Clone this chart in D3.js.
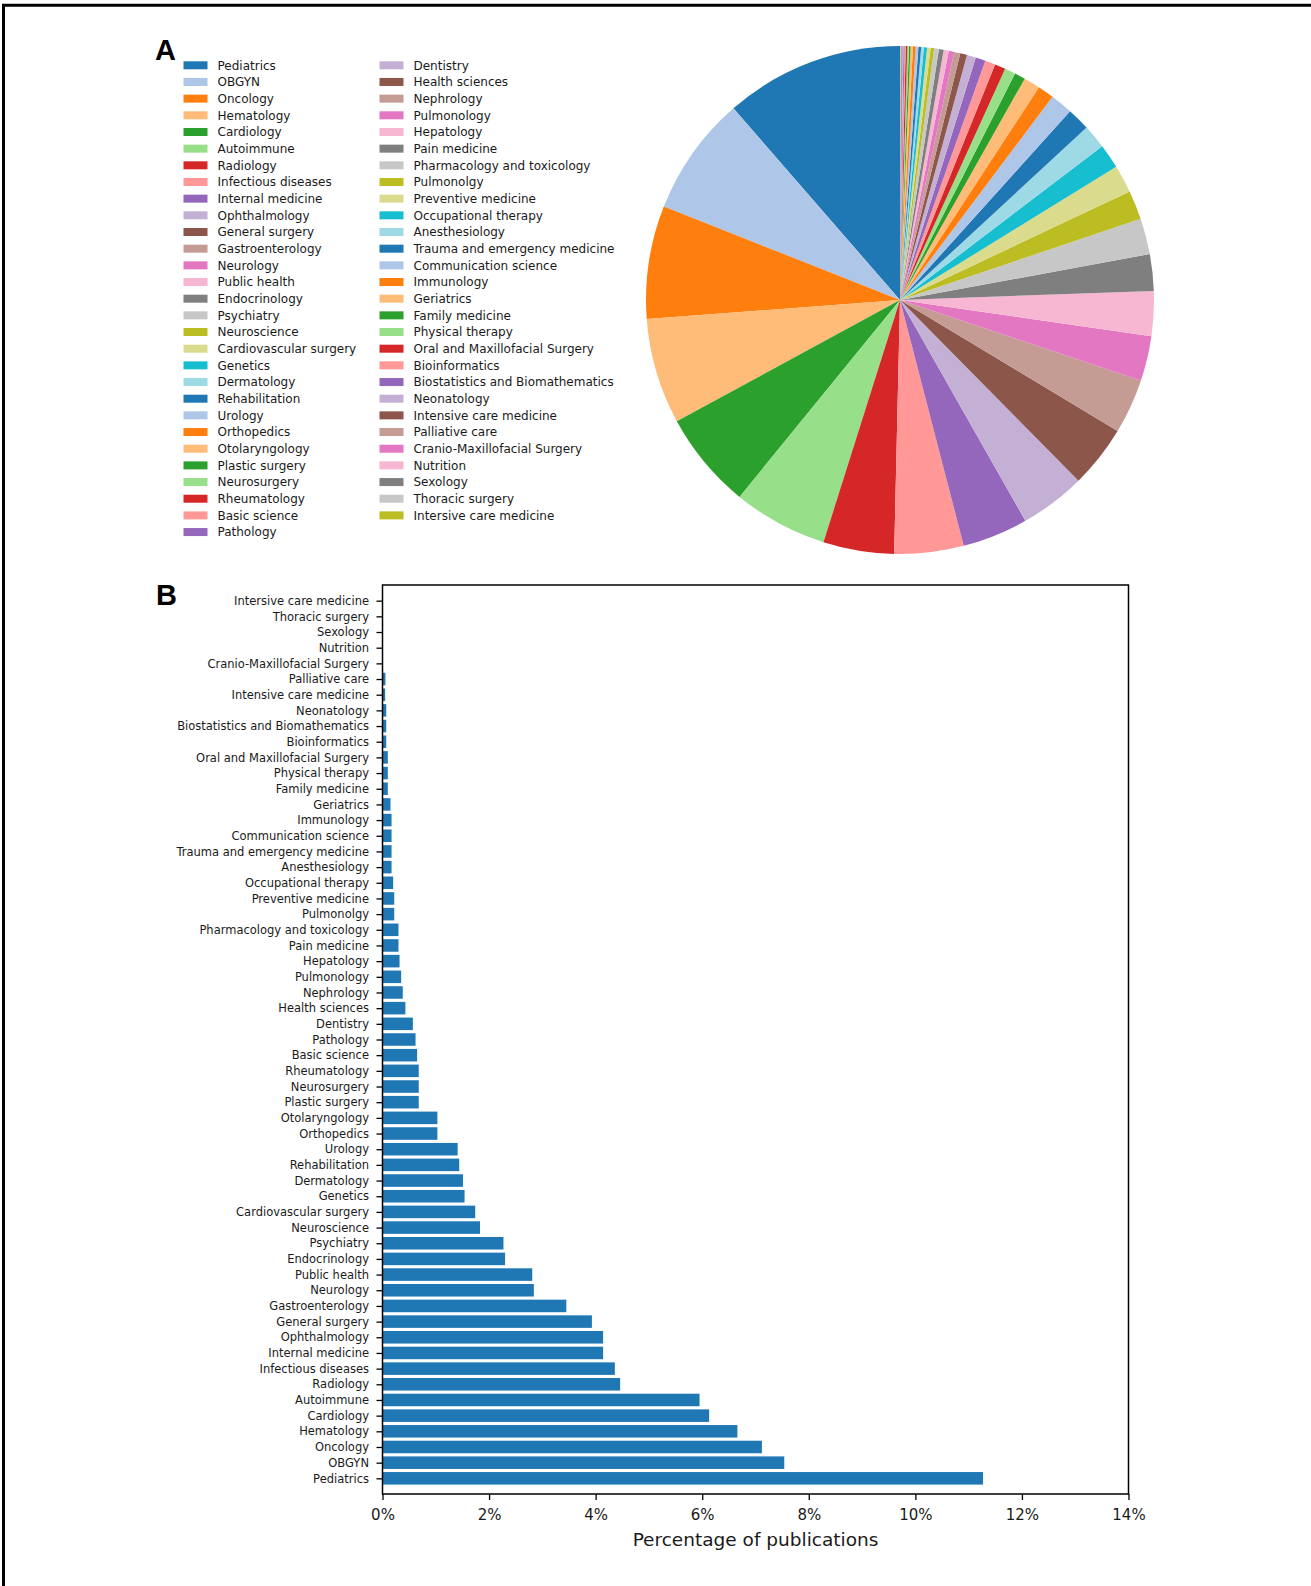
<!DOCTYPE html>
<html>
<head>
<meta charset="utf-8">
<script src="https://cdn.jsdelivr.net/npm/d3@7"></script>
<style>
  html, body { margin: 0; padding: 0; background: #fff; }
  svg { display: block; }
  .lbl { font-family: "DejaVu Sans", sans-serif; fill: #1a1a1a; }
</style>
</head>
<body>
<svg id="fig" width="1311" height="1586"></svg>
<script>
// Specialties, in order of share of publications (largest first)
const specialties = [
  "Pediatrics", "OBGYN", "Oncology", "Hematology", "Cardiology", "Autoimmune",
  "Radiology", "Infectious diseases", "Internal medicine", "Ophthalmology",
  "General surgery", "Gastroenterology", "Neurology", "Public health",
  "Endocrinology", "Psychiatry", "Neuroscience", "Cardiovascular surgery",
  "Genetics", "Dermatology", "Rehabilitation", "Urology", "Orthopedics",
  "Otolaryngology", "Plastic surgery", "Neurosurgery", "Rheumatology",
  "Basic science", "Pathology", "Dentistry", "Health sciences", "Nephrology",
  "Pulmonology", "Hepatology", "Pain medicine", "Pharmacology and toxicology",
  "Pulmonolgy", "Preventive medicine", "Occupational therapy", "Anesthesiology",
  "Trauma and emergency medicine", "Communication science", "Immunology",
  "Geriatrics", "Family medicine", "Physical therapy",
  "Oral and Maxillofacial Surgery", "Bioinformatics",
  "Biostatistics and Biomathematics", "Neonatology", "Intensive care medicine",
  "Palliative care", "Cranio-Maxillofacial Surgery", "Nutrition", "Sexology",
  "Thoracic surgery", "Intersive care medicine"
];

// Percentage of publications per specialty
const percentages = [
  11.27, 7.54, 7.12, 6.66, 6.13, 5.95,
  4.46, 4.36, 4.14, 4.14,
  3.93, 3.45, 2.84, 2.81,
  2.30, 2.27, 1.83, 1.74,
  1.54, 1.51, 1.44, 1.41, 1.03,
  1.03, 0.68, 0.68, 0.68,
  0.65, 0.62, 0.57, 0.43, 0.38,
  0.35, 0.32, 0.30, 0.30,
  0.22, 0.22, 0.20, 0.17,
  0.17, 0.17, 0.17,
  0.15, 0.10, 0.10,
  0.10, 0.07,
  0.07, 0.07, 0.05,
  0.055, 0.008, 0.008, 0.008,
  0.008, 0.008
];

// Axis ticks of the bar chart (percent)
const xTicks = [0, 2, 4, 6, 8, 10, 12, 14];

// 20-colour categorical palette, cycled over the specialties
const palette = [
  "#1f77b4", "#aec7e8", "#ff7f0e", "#ffbb78", "#2ca02c", "#98df8a",
  "#d62728", "#ff9896", "#9467bd", "#c5b0d5", "#8c564b", "#c49c94",
  "#e377c2", "#f7b6d2", "#7f7f7f", "#c7c7c7", "#bcbd22", "#dbdb8d",
  "#17becf", "#9edae5"
];

// Legend split: first column length
const legendColumnSize = 29;

const svg = d3.select("#fig");
svg.append("rect").attr("width", 1311).attr("height", 1586).attr("fill", "#fff");

// Figure frame (top and left edges)
svg.append("line").attr("x1", 2).attr("x2", 1311).attr("y1", 5.3).attr("y2", 5.3)
  .attr("stroke", "#000").attr("stroke-width", 3);
svg.append("line").attr("x1", 3.5).attr("x2", 3.5).attr("y1", 4).attr("y2", 1586)
  .attr("stroke", "#000").attr("stroke-width", 3);

const color = d3.scaleOrdinal().domain(specialties).range(palette);

// Panel letters
svg.append("text").attr("x", 155).attr("y", 60).text("A")
  .attr("font-family", "'Liberation Sans', Arial, sans-serif")
  .attr("font-weight", "bold").attr("font-size", 29).attr("fill", "#000");
svg.append("text").attr("x", 156).attr("y", 605).text("B")
  .attr("font-family", "'Liberation Sans', Arial, sans-serif")
  .attr("font-weight", "bold").attr("font-size", 29).attr("fill", "#000");

// ---------- Panel A: legend ----------
const legendRow = d3.scaleLinear().domain([0, 1]).range([65.3, 65.3 + 16.67]);
const legendCols = [{ rectX: 183.5, textX: 217.5 }, { rectX: 379.5, textX: 413.5 }];

const legend = svg.append("g");
specialties.forEach((name, i) => {
  const col = i < legendColumnSize ? 0 : 1;
  const row = col === 0 ? i : i - legendColumnSize;
  const cy = legendRow(row);
  const c = legendCols[col];
  legend.append("rect")
    .attr("x", c.rectX).attr("y", cy - 4)
    .attr("width", 24).attr("height", 8)
    .attr("fill", color(name));
  legend.append("text").attr("class", "lbl")
    .attr("x", c.textX).attr("y", cy).attr("dy", "0.36em")
    .attr("font-size", 12).text(name);
});

// ---------- Panel A: pie (counter-clockwise from 12 o'clock) ----------
const pie = d3.pie().sort(null).value(d => d)
  .startAngle(0).endAngle(-2 * Math.PI);
const arc = d3.arc().innerRadius(0).outerRadius(254);

svg.append("g").attr("transform", "translate(900,300)")
  .selectAll("path")
  .data(pie(percentages))
  .join("path")
  .attr("d", arc)
  .attr("fill", (d, i) => color(specialties[i]));

// ---------- Panel B: horizontal bar chart ----------
const plot = { left: 382.5, right: 1128.5, top: 585, bottom: 1494 };

const x = d3.scaleLinear().domain([0, 14]).range([plot.left, plot.right]);
const y = d3.scaleLinear().domain([-1, specialties.length]).range([plot.bottom, plot.top]);

const bars = svg.append("g");
bars.selectAll("rect")
  .data(percentages)
  .join("rect")
  .attr("x", x(0))
  .attr("y", (d, i) => y(i + 0.4))
  .attr("width", d => x(d) - x(0))
  .attr("height", (d, i) => y(i - 0.4) - y(i + 0.4))
  .attr("fill", "#1f77b4");

// y axis: specialty names
const yAxis = d3.axisLeft(y)
  .tickValues(d3.range(specialties.length))
  .tickFormat(i => specialties[i])
  .tickSize(6).tickPadding(7.5);
const gy = svg.append("g").attr("transform", `translate(${plot.left},0)`).call(yAxis);
gy.select(".domain").remove();
gy.selectAll(".tick line").attr("stroke", "#000").attr("stroke-width", 1.3);
gy.selectAll(".tick text").attr("class", "lbl")
  .attr("font-size", 11.5).attr("fill", "#1a1a1a");

// x axis: percentage
const xAxis = d3.axisBottom(x)
  .tickValues(xTicks)
  .tickFormat(d => d + "%")
  .tickSize(6).tickPadding(9);
const gx = svg.append("g").attr("transform", `translate(0,${plot.bottom})`).call(xAxis);
gx.select(".domain").remove();
gx.selectAll(".tick line").attr("stroke", "#000").attr("stroke-width", 1.3);
gx.selectAll(".tick text").attr("class", "lbl")
  .attr("font-size", 15).attr("fill", "#1a1a1a");

// plot frame
svg.append("rect")
  .attr("x", plot.left).attr("y", plot.top)
  .attr("width", plot.right - plot.left).attr("height", plot.bottom - plot.top)
  .attr("fill", "none").attr("stroke", "#000").attr("stroke-width", 1.5);

// x axis title
svg.append("text").attr("class", "lbl")
  .attr("x", (plot.left + plot.right) / 2).attr("y", 1546)
  .attr("text-anchor", "middle").attr("font-size", 18.5)
  .text("Percentage of publications");
</script>
</body>
</html>
